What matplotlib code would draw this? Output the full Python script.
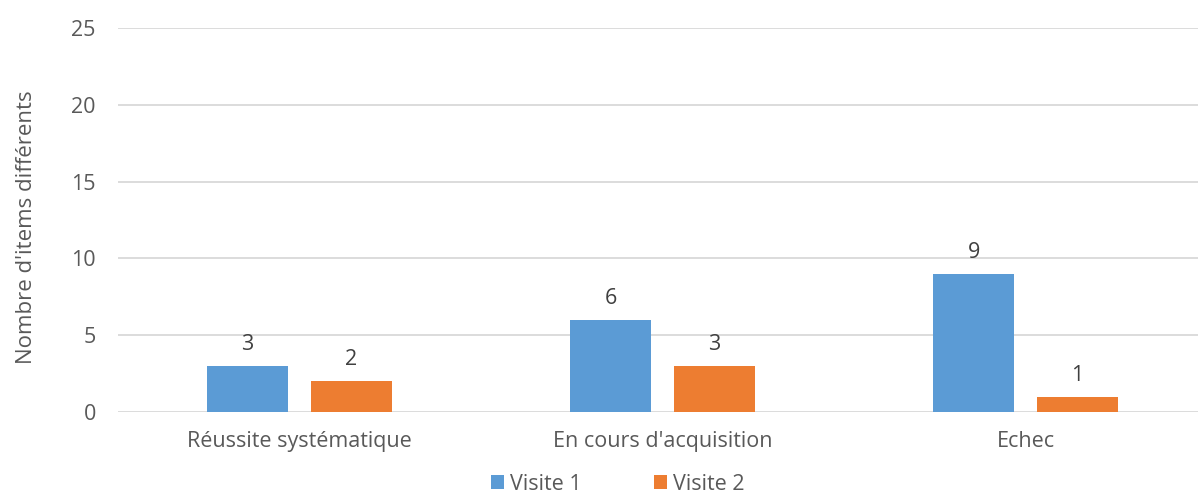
import numpy as np
import matplotlib
matplotlib.use("Agg")
import matplotlib.pyplot as plt

plt.rcParams['font.family'] = ['Open Sans', 'DejaVu Sans']

categories = ["Réussite systématique", "En cours d'acquisition", "Echec"]
visite1 = [3, 6, 9]
visite2 = [2, 3, 1]
series_names = ["Visite 1", "Visite 2"]
colors = ["#5b9bd5", "#ed7d31"]

W, H = 1198, 495
fig = plt.figure(figsize=(W / 100, H / 100), dpi=100)
# plot area runs slightly past the right edge, like the original
ax = fig.add_axes([118 / W, (H - 412) / H, 1089 / W, 384 / H])

x = np.arange(len(categories))
bw = 0.225
off = 0.143
b1 = ax.bar(x - off, visite1, bw, color=colors[0], label=series_names[0], zorder=3)
b2 = ax.bar(x + off, visite2, bw, color=colors[1], label=series_names[1], zorder=3)

for bars in (b1, b2):
    for r in bars:
        ax.annotate(str(int(r.get_height())), (r.get_x() + r.get_width() / 2, r.get_height()),
                    xytext=(0, 8), textcoords="offset points", ha="center", va="bottom",
                    fontsize=15.5, color="#404040")

ax.set_xlim(-0.5, 2.5)
ax.set_ylim(0, 25)
ax.set_yticks([0, 5, 10, 15, 20, 25])
ax.set_xticks(x)
ax.set_xticklabels(categories)
ax.yaxis.grid(True, color="#d9d9d9", lw=1.3, zorder=0)
for s in ax.spines.values():
    s.set_visible(False)
ax.tick_params(axis="both", length=0, labelsize=15.5, labelcolor="#595959")
ax.tick_params(axis="y", pad=16)
ax.tick_params(axis="x", pad=14)
ax.set_ylabel("Nombre d'items différents", fontsize=16, color="#595959")
ax.yaxis.set_label_coords((37 - 118) / 1089, 0.48)

fig.legend(loc="center", bbox_to_anchor=(618 / W, 1 - 484 / H), ncol=2, frameon=False,
           fontsize=15.5, labelcolor="#595959", handlelength=0.6, handleheight=0.6,
           handletextpad=0.3, columnspacing=3.35, borderaxespad=0)

fig.savefig("out.png", dpi=100)
